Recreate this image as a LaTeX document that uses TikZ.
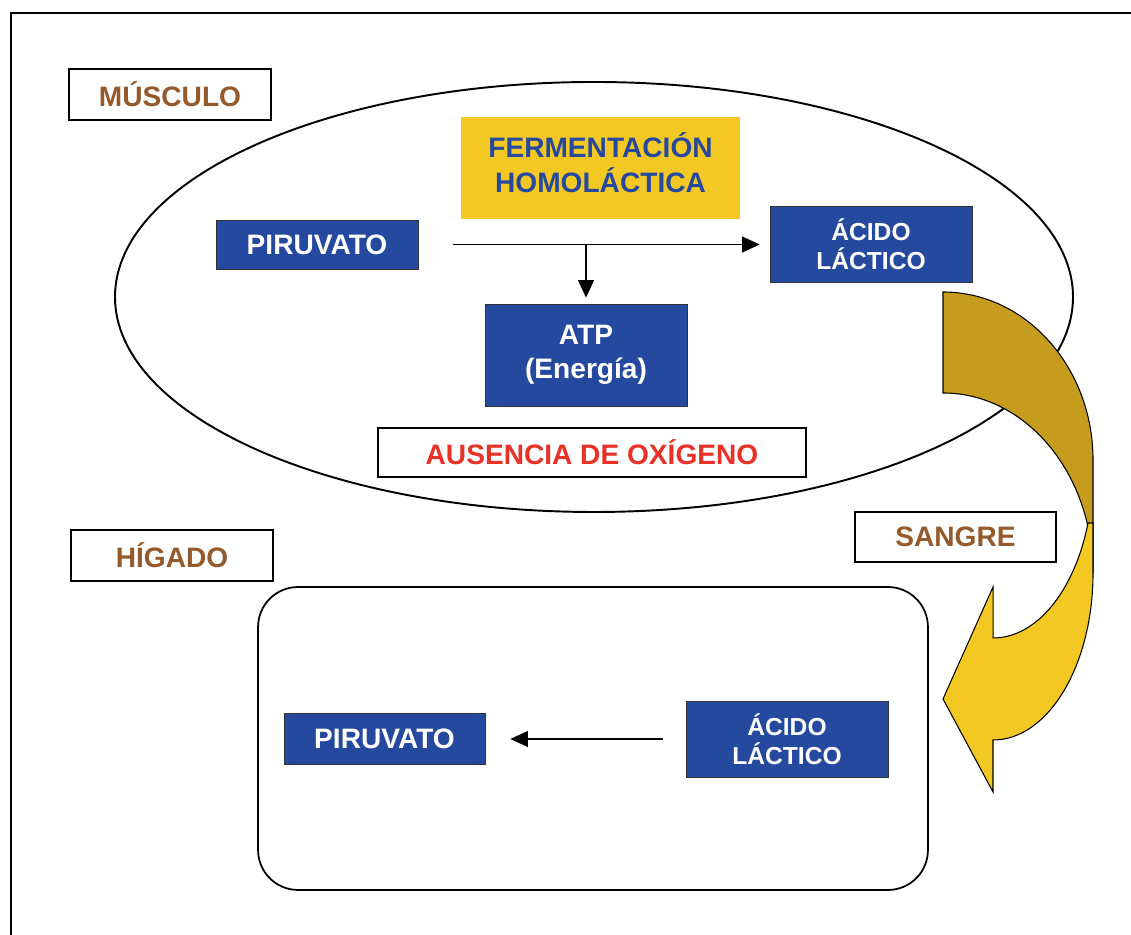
\documentclass[tikz,border=0pt]{standalone}
\usepackage{fontspec}
\setmainfont{Liberation Sans}
\usetikzlibrary{arrows.meta}
\definecolor{azul}{RGB}{36,73,158}
\definecolor{amarillo}{RGB}{244,200,35}
\definecolor{dorado}{RGB}{198,156,31}
\definecolor{marron}{RGB}{149,90,43}
\definecolor{rojo}{RGB}{232,50,40}
\tikzset{compuesto/.style = {draw=black!80, fill=azul, text=white, align=center, inner sep=0pt, minimum width=4.04cm, font=\bfseries\fontsize{16}{19}\selectfont}}
\tikzset{acido/.style = {compuesto, minimum height=1.52cm, font=\bfseries\fontsize{14}{16.5}\selectfont}}
\tikzset{organo/.style = {draw, line width=1pt, fill=white, text=marron, inner sep=0pt, minimum width=4.04cm, minimum height=1.02cm, font=\bfseries\fontsize{16}{19}\selectfont}}
\tikzset{flecha/.style = {-{Triangle[length=10pt,width=9pt]}, line width=0.9pt}}

\begin{document}
\begin{tikzpicture}[x=0.02cm, y=0.02cm]
  \useasboundingbox (0,0) rectangle (1131,935);
  \draw[semithick] (11,0) -- (11,922) -- (1131,922);

  % musculo
  \draw[line width=1.1pt] (594,638) ellipse [x radius=479, y radius=215];
  \node [organo] (musculo) at (170,840.5) {MÚSCULO};
  \node [fill=amarillo, text=azul, minimum width=5.58cm, minimum height=2.04cm, inner sep=0pt, font=\bfseries\fontsize{16}{19}\selectfont] (fermentacion) at (600.5,767)
    {\raisebox{4.5pt}{\begin{tabular}{@{}c@{}}FERMENTACIÓN\\HOMOLÁCTICA\end{tabular}}};
  \node [compuesto, minimum height=0.98cm] (piruvato1) at (317,690.5) {PIRUVATO};
  \node [acido] (acido1) at (871,690.5) {ÁCIDO\\LÁCTICO};
  \node [compuesto, minimum height=2.04cm] (atp) at (586,580) {ATP\\(Energía)};
  \node [organo, text=rojo, minimum width=8.56cm, minimum height=0.98cm] (ausencia) at (592,482.5) {AUSENCIA DE OXÍGENO};
  \coordinate (rama) at (586,690.5);

  \draw[flecha, shorten <=0.7cm, shorten >=0.2cm] (piruvato1) -- (acido1);
  \draw[flecha, shorten >=0.12cm] (rama) -- (atp);

  % sangre
  \draw[semithick, fill=dorado] (943,643) arc[start angle=90, end angle=0, x radius=150, y radius=168]
    -- (1093,362) arc[start angle=0, end angle=90, x radius=150, y radius=180] -- cycle;
  \draw[semithick, fill=amarillo] (1088,412) arc[start angle=-18.4, end angle=-90, x radius=100, y radius=168]
    -- (993,348) -- (943,236) -- (993,143) -- (993,195)
    arc[start angle=-90, end angle=0, x radius=100, y radius=167] -- (1093,412) -- cycle;
  \node [organo, minimum width=4.02cm, minimum height=1cm] (sangre) at (955.5,398) {SANGRE};

  % higado
  \node [organo] (higado) at (172,379.5) {HÍGADO};
  \node [draw, line width=1pt, rounded corners=0.8cm, minimum width=13.4cm, minimum height=6.06cm] (celula) at (593,196.5) {};
  \node [compuesto, minimum width=4.02cm, minimum height=1.02cm] (piruvato2) at (384.5,196) {PIRUVATO};
  \node [acido] (acido2) at (787,196) {ÁCIDO\\LÁCTICO};

  \draw[flecha, shorten <=0.46cm, shorten >=0.5cm] (acido2) -- (piruvato2);
\end{tikzpicture}
\end{document}
